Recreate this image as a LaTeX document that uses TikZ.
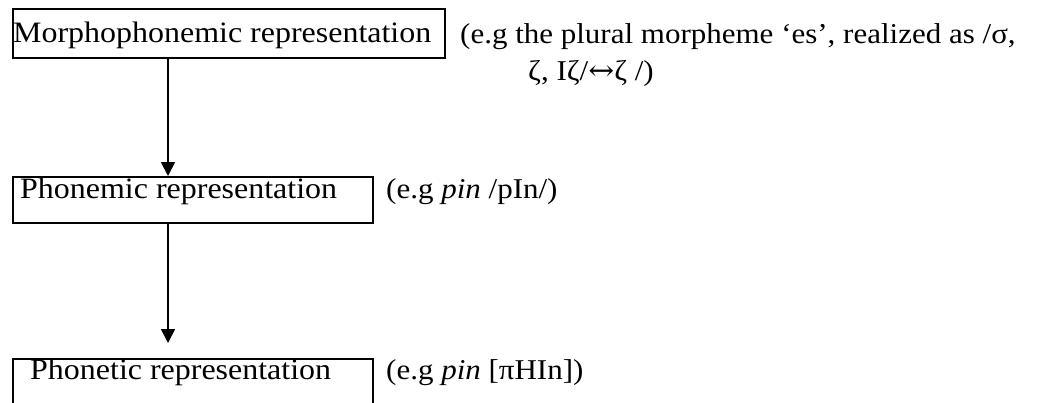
\documentclass[tikz,border=0pt]{standalone}
\usepackage{fontspec}
\setmainfont{Liberation Serif}[FakeStretch=1.08]
\newfontfamily\arrfont{DejaVu Serif}[FakeStretch=1.08]
\usetikzlibrary{arrows.meta}
\tikzset{
  box/.style={draw, line width=1.8pt, inner sep=0pt, anchor=north west},
  lbl/.style={anchor=base west, inner sep=0pt, font=\fontsize{29.6}{34}\selectfont},
  note/.style={anchor=base west, inner sep=0pt, font=\fontsize{28.7}{34}\selectfont},
  arr/.style={line width=1.8pt, -{Triangle[width=14pt,length=14pt]}}
}
\begin{document}
\begin{tikzpicture}[x=1pt,y=-1pt]
\useasboundingbox (0,0) rectangle (1042,402);
\clip (0,0) rectangle (1042,402);
\node[box, minimum width=432pt, minimum height=49pt] (b1) at (12,8) {};
\node[box, minimum width=360pt, minimum height=46pt] (b2) at (12,176) {};
\node[box, minimum width=360pt, minimum height=70pt] (b3) at (12,358) {};
\node[lbl] (t1) at (13,42) {Morphophonemic representation};
\node[lbl] (t2) at (20,198) {Phonemic representation};
\node[lbl] (t3) at (30,379) {Phonetic representation};
\node[note] (a1) at (460,43) {(e.g the plural morpheme ‘es’, realized as /σ,};
\node[note] (a1b) at (528,80) {ζ, Iζ/{\arrfont ↔}ζ /)};
\node[note] (a2) at (386,198) {(e.g \textit{pin} /pIn/)};
\node[note] (a3) at (386,379) {(e.g \textit{pin} [πHIn])};
\coordinate (ax) at (168,0);
\draw[arr] (b1.south -| ax) -- (b2.north -| ax);
\draw[arr] (b2.south -| ax) -- ([yshift=15pt]b3.north -| ax);
\end{tikzpicture}
\end{document}
